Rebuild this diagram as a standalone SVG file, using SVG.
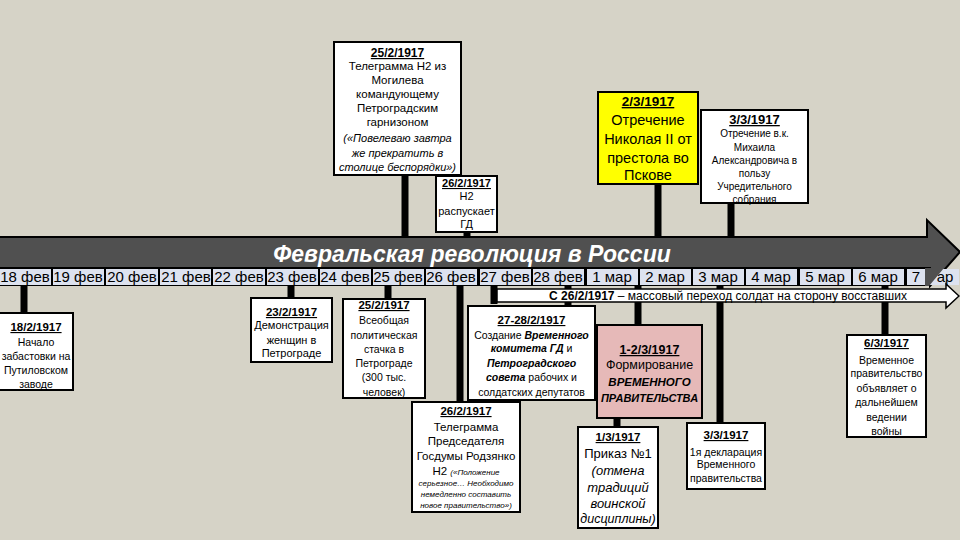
<svg xmlns="http://www.w3.org/2000/svg" width="960" height="540" viewBox="0 0 960 540">
<style>
.box{fill:#fff;stroke:#000;stroke-width:2}
.t{font-family:"Liberation Sans",Arial,sans-serif;text-anchor:middle;fill:#000}
.d{font-weight:bold;text-decoration:underline}
.i{font-style:italic}
.bi{font-weight:bold;font-style:italic}
.c line{stroke:#000;stroke-width:7}
.cell{fill:#dde2ef}
.dt{font-family:"Liberation Sans",Arial,sans-serif;font-size:15px;fill:#000;text-anchor:middle}
</style>
<rect width="960" height="540" fill="#d6d3c7"/>

<!-- timeline band -->
<g id="timeline">
<polygon points="-5,237 927,237 927,220 960,252 930,286 930,268 -5,268" fill="#505050" stroke="#000" stroke-width="2"/>
<text x="472" y="262" font-family="Liberation Sans,Arial,sans-serif" font-size="23" font-weight="bold" font-style="italic" fill="#fff" text-anchor="middle">Февральская революция в России</text>
<rect x="-2" y="268" width="932" height="18" fill="#000"/>
<g>
<rect class="cell" x="0" y="269" width="51" height="16"/><text class="dt" x="25" y="282">18 фев</text>
<rect class="cell" x="53" y="269" width="51" height="16"/><text class="dt" x="78" y="282">19 фев</text>
<rect class="cell" x="106" y="269" width="52" height="16"/><text class="dt" x="132" y="282">20 фев</text>
<rect class="cell" x="160" y="269" width="51" height="16"/><text class="dt" x="186" y="282">21 фев</text>
<rect class="cell" x="213" y="269" width="52" height="16"/><text class="dt" x="239" y="282">22 фев</text>
<rect class="cell" x="267" y="269" width="51" height="16"/><text class="dt" x="292" y="282">23 фев</text>
<rect class="cell" x="320" y="269" width="51" height="16"/><text class="dt" x="345" y="282">24 фев</text>
<rect class="cell" x="373" y="269" width="51" height="16"/><text class="dt" x="398" y="282">25 фев</text>
<rect class="cell" x="426" y="269" width="51" height="16"/><text class="dt" x="451" y="282">26 фев</text>
<rect class="cell" x="480" y="269" width="51" height="16"/><text class="dt" x="505" y="282">27 фев</text>
<rect class="cell" x="533" y="269" width="51" height="16"/><text class="dt" x="558" y="282">28 фев</text>
<rect class="cell" x="587" y="269" width="51" height="16"/><text class="dt" x="612" y="282">1 мар</text>
<rect class="cell" x="640" y="269" width="51" height="16"/><text class="dt" x="665" y="282">2 мар</text>
<rect class="cell" x="693" y="269" width="51" height="16"/><text class="dt" x="718" y="282">3 мар</text>
<rect class="cell" x="746" y="269" width="51" height="16"/><text class="dt" x="771" y="282">4 мар</text>
<rect class="cell" x="800" y="269" width="51" height="16"/><text class="dt" x="825" y="282">5 мар</text>
<rect class="cell" x="853" y="269" width="51" height="16"/><text class="dt" x="878" y="282">6 мар</text>
<rect class="cell" x="907" y="269" width="18" height="16"/><text class="dt" x="916" y="282">7</text>
<rect class="cell" x="930" y="269" width="29" height="16"/><text class="dt" x="945" y="282">ар</text>
<polygon points="925,268 944,268 929,286 925,286" fill="#505050"/>
</g>
</g>

<!-- connectors -->
<g id="connectors" class="c">
<line x1="405" y1="175" x2="405" y2="237"/>
<line x1="467" y1="231" x2="467" y2="237"/>
<line x1="658" y1="184" x2="658" y2="237"/>
<line x1="731" y1="203" x2="731" y2="237"/>
<line x1="24" y1="286" x2="24" y2="313"/>
<line x1="291" y1="286" x2="291" y2="298"/>
<line x1="388" y1="286" x2="388" y2="299"/>
<line x1="460" y1="286" x2="460" y2="402"/>
<line x1="494" y1="286" x2="494" y2="304"/>
<line x1="568" y1="286" x2="568" y2="306"/>
<line x1="638" y1="286" x2="638" y2="325"/>
<line x1="617" y1="418" x2="617" y2="427"/>
<line x1="720" y1="286" x2="720" y2="423"/>
<line x1="885" y1="286" x2="885" y2="335"/>
</g>

<!-- soldiers arrow -->
<g id="soldiers">
<polygon points="497,289 946,289 946,284 959,296 946,308 946,302 497,302" fill="#fff" stroke="#000" stroke-width="1.5"/>
<text class="t" x="728" y="300" font-size="12"><tspan font-weight="bold">С 26/2/1917</tspan> – массовый переход солдат на сторону восставших</text>
</g>

<g id="n_25_2_tel">
<rect class="box" x="334" y="42" width="127" height="133"/>
<text class="t d" x="397.5" y="57" font-size="12">25/2/1917</text>
<text class="t" x="397.5" y="70" font-size="11.5">Телеграмма Н2 из</text>
<text class="t" x="397.5" y="84" font-size="11.5">Могилева</text>
<text class="t" x="397.5" y="98" font-size="11.5">командующему</text>
<text class="t" x="397.5" y="112" font-size="11.5">Петроградским</text>
<text class="t" x="397.5" y="126" font-size="11.5">гарнизоном</text>
<text class="t i" x="397.5" y="142" font-size="11">(«Повелеваю завтра</text>
<text class="t i" x="397.5" y="157" font-size="11">же прекратить в</text>
<text class="t i" x="397.5" y="171" font-size="11">столице беспорядки»)</text>
</g>

<g id="n_26_2_gd">
<rect class="box" x="436" y="176" width="61" height="56"/>
<text class="t d" x="466.5" y="187" font-size="11">26/2/1917</text>
<text class="t" x="466.5" y="200" font-size="11">Н2</text>
<text class="t" x="466.5" y="215" font-size="11">распускает</text>
<text class="t" x="466.5" y="228" font-size="11">ГД</text>
</g>

<g id="n_2_3">
<rect class="box" x="598" y="92" width="100" height="92" style="fill:#ffff00"/>
<text class="t d" x="648" y="106" font-size="13.5">2/3/1917</text>
<text class="t" x="648" y="125" font-size="14.5">Отречение</text>
<text class="t" x="648" y="144" font-size="14.5">Николая II от</text>
<text class="t" x="648" y="163" font-size="14.5">престола во</text>
<text class="t" x="648" y="180" font-size="14.5">Пскове</text>
</g>

<g id="n_3_3_mikh">
<rect class="box" x="701" y="110" width="107" height="93"/>
<text class="t d" x="754.5" y="124" font-size="13">3/3/1917</text>
<text class="t" x="754.5" y="137" font-size="10">Отречение в.к.</text>
<text class="t" x="754.5" y="151" font-size="10">Михаила</text>
<text class="t" x="754.5" y="164" font-size="10">Александровича в</text>
<text class="t" x="754.5" y="177" font-size="10">пользу</text>
<text class="t" x="754.5" y="190" font-size="10">Учредительного</text>
<text class="t" x="754.5" y="203" font-size="10">собрания</text>
</g>

<g id="n_18_2">
<rect class="box" x="-2" y="313" width="75" height="77"/>
<text class="t d" x="36" y="331" font-size="11.5">18/2/1917</text>
<text class="t" x="36" y="346" font-size="10.5">Начало</text>
<text class="t" x="36" y="360" font-size="10.5">забастовки на</text>
<text class="t" x="36" y="374" font-size="10.5">Путиловском</text>
<text class="t" x="36" y="388" font-size="10.5">заводе</text>
</g>

<g id="n_23_2">
<rect class="box" x="251" y="298" width="81" height="64"/>
<text class="t d" x="291.5" y="316" font-size="11.5">23/2/1917</text>
<text class="t" x="291.5" y="329" font-size="11">Демонстрация</text>
<text class="t" x="291.5" y="344" font-size="11">женщин в</text>
<text class="t" x="291.5" y="357" font-size="11">Петрограде</text>
</g>

<g id="n_25_2_strike">
<rect class="box" x="343" y="299" width="82" height="99"/>
<text class="t d" x="384" y="309" font-size="11.5">25/2/1917</text>
<text class="t" x="384" y="324" font-size="10.5">Всеобщая</text>
<text class="t" x="384" y="339" font-size="10.5">политическая</text>
<text class="t" x="384" y="353" font-size="10.5">стачка в</text>
<text class="t" x="384" y="367" font-size="10.5">Петрограде</text>
<text class="t" x="384" y="381" font-size="10.5">(300 тыс.</text>
<text class="t" x="384" y="396" font-size="10.5">человек)</text>
</g>

<g id="n_27_28_2">
<rect class="box" x="468" y="306" width="127" height="94"/>
<text class="t d" x="531.5" y="324" font-size="11.5">27-28/2/1917</text>
<text class="t" x="531.5" y="339" font-size="10.5">Создание <tspan class="bi">Временного</tspan></text>
<text class="t" x="531.5" y="352" font-size="10.5"><tspan class="bi">комитета ГД</tspan> и</text>
<text class="t bi" x="531.5" y="367" font-size="10.5">Петроградского</text>
<text class="t" x="531.5" y="381" font-size="10.5"><tspan class="bi">совета</tspan> рабочих и</text>
<text class="t" x="531.5" y="396" font-size="10.5">солдатских депутатов</text>
</g>

<g id="n_1_2_3">
<rect class="box" x="597" y="325" width="105" height="93" style="fill:#e6b9b8"/>
<text class="t d" x="649.5" y="354" font-size="12.5">1-2/3/1917</text>
<text class="t" x="649.5" y="369" font-size="12.5">Формирование</text>
<text class="t bi" x="649.5" y="386" font-size="11.5">ВРЕМЕННОГО</text>
<text class="t bi" x="649.5" y="402" font-size="11">ПРАВИТЕЛЬСТВА</text>
</g>

<g id="n_26_2_rodz">
<rect class="box" x="412" y="402" width="108" height="110"/>
<text class="t d" x="466" y="415" font-size="11.5">26/2/1917</text>
<text class="t" x="466" y="431" font-size="11.5">Телеграмма</text>
<text class="t" x="466" y="445" font-size="11.5">Председателя</text>
<text class="t" x="466" y="460" font-size="11.5">Госдумы Родзянко</text>
<text class="t" x="466" y="475" font-size="11.5">Н2 <tspan class="i" font-size="8">(«Положение</tspan></text>
<text class="t i" x="466" y="486" font-size="8">серьезное… Необходимо</text>
<text class="t i" x="466" y="497" font-size="8">немедленно составить</text>
<text class="t i" x="466" y="508" font-size="8">новое правительство»)</text>
</g>

<g id="n_1_3">
<rect class="box" x="578" y="427" width="80" height="101"/>
<text class="t d" x="618" y="441" font-size="11.5">1/3/1917</text>
<text class="t" x="618" y="458" font-size="13">Приказ №1</text>
<text class="t i" x="618" y="475" font-size="13">(отмена</text>
<text class="t i" x="618" y="492" font-size="13">традиций</text>
<text class="t i" x="618" y="508" font-size="13">воинской</text>
<text class="t i" x="618" y="523" font-size="12.5">дисциплины)</text>
</g>

<g id="n_3_3_decl">
<rect class="box" x="687" y="423" width="78" height="66"/>
<text class="t d" x="726" y="439" font-size="11.5">3/3/1917</text>
<text class="t" x="726" y="456" font-size="10.5">1я декларация</text>
<text class="t" x="726" y="468" font-size="10.5">Временного</text>
<text class="t" x="726" y="482" font-size="10.5">правительства</text>
</g>

<g id="n_6_3">
<rect class="box" x="847" y="335" width="79" height="102"/>
<text class="t d" x="886.5" y="347" font-size="11.5">6/3/1917</text>
<text class="t" x="886.5" y="364" font-size="10.5">Временное</text>
<text class="t" x="886.5" y="377" font-size="10.5">правительство</text>
<text class="t" x="886.5" y="392" font-size="10.5">объявляет о</text>
<text class="t" x="886.5" y="406" font-size="10.5">дальнейшем</text>
<text class="t" x="886.5" y="421" font-size="10.5">ведении</text>
<text class="t" x="886.5" y="435" font-size="10.5">войны</text>
</g>
</svg>
